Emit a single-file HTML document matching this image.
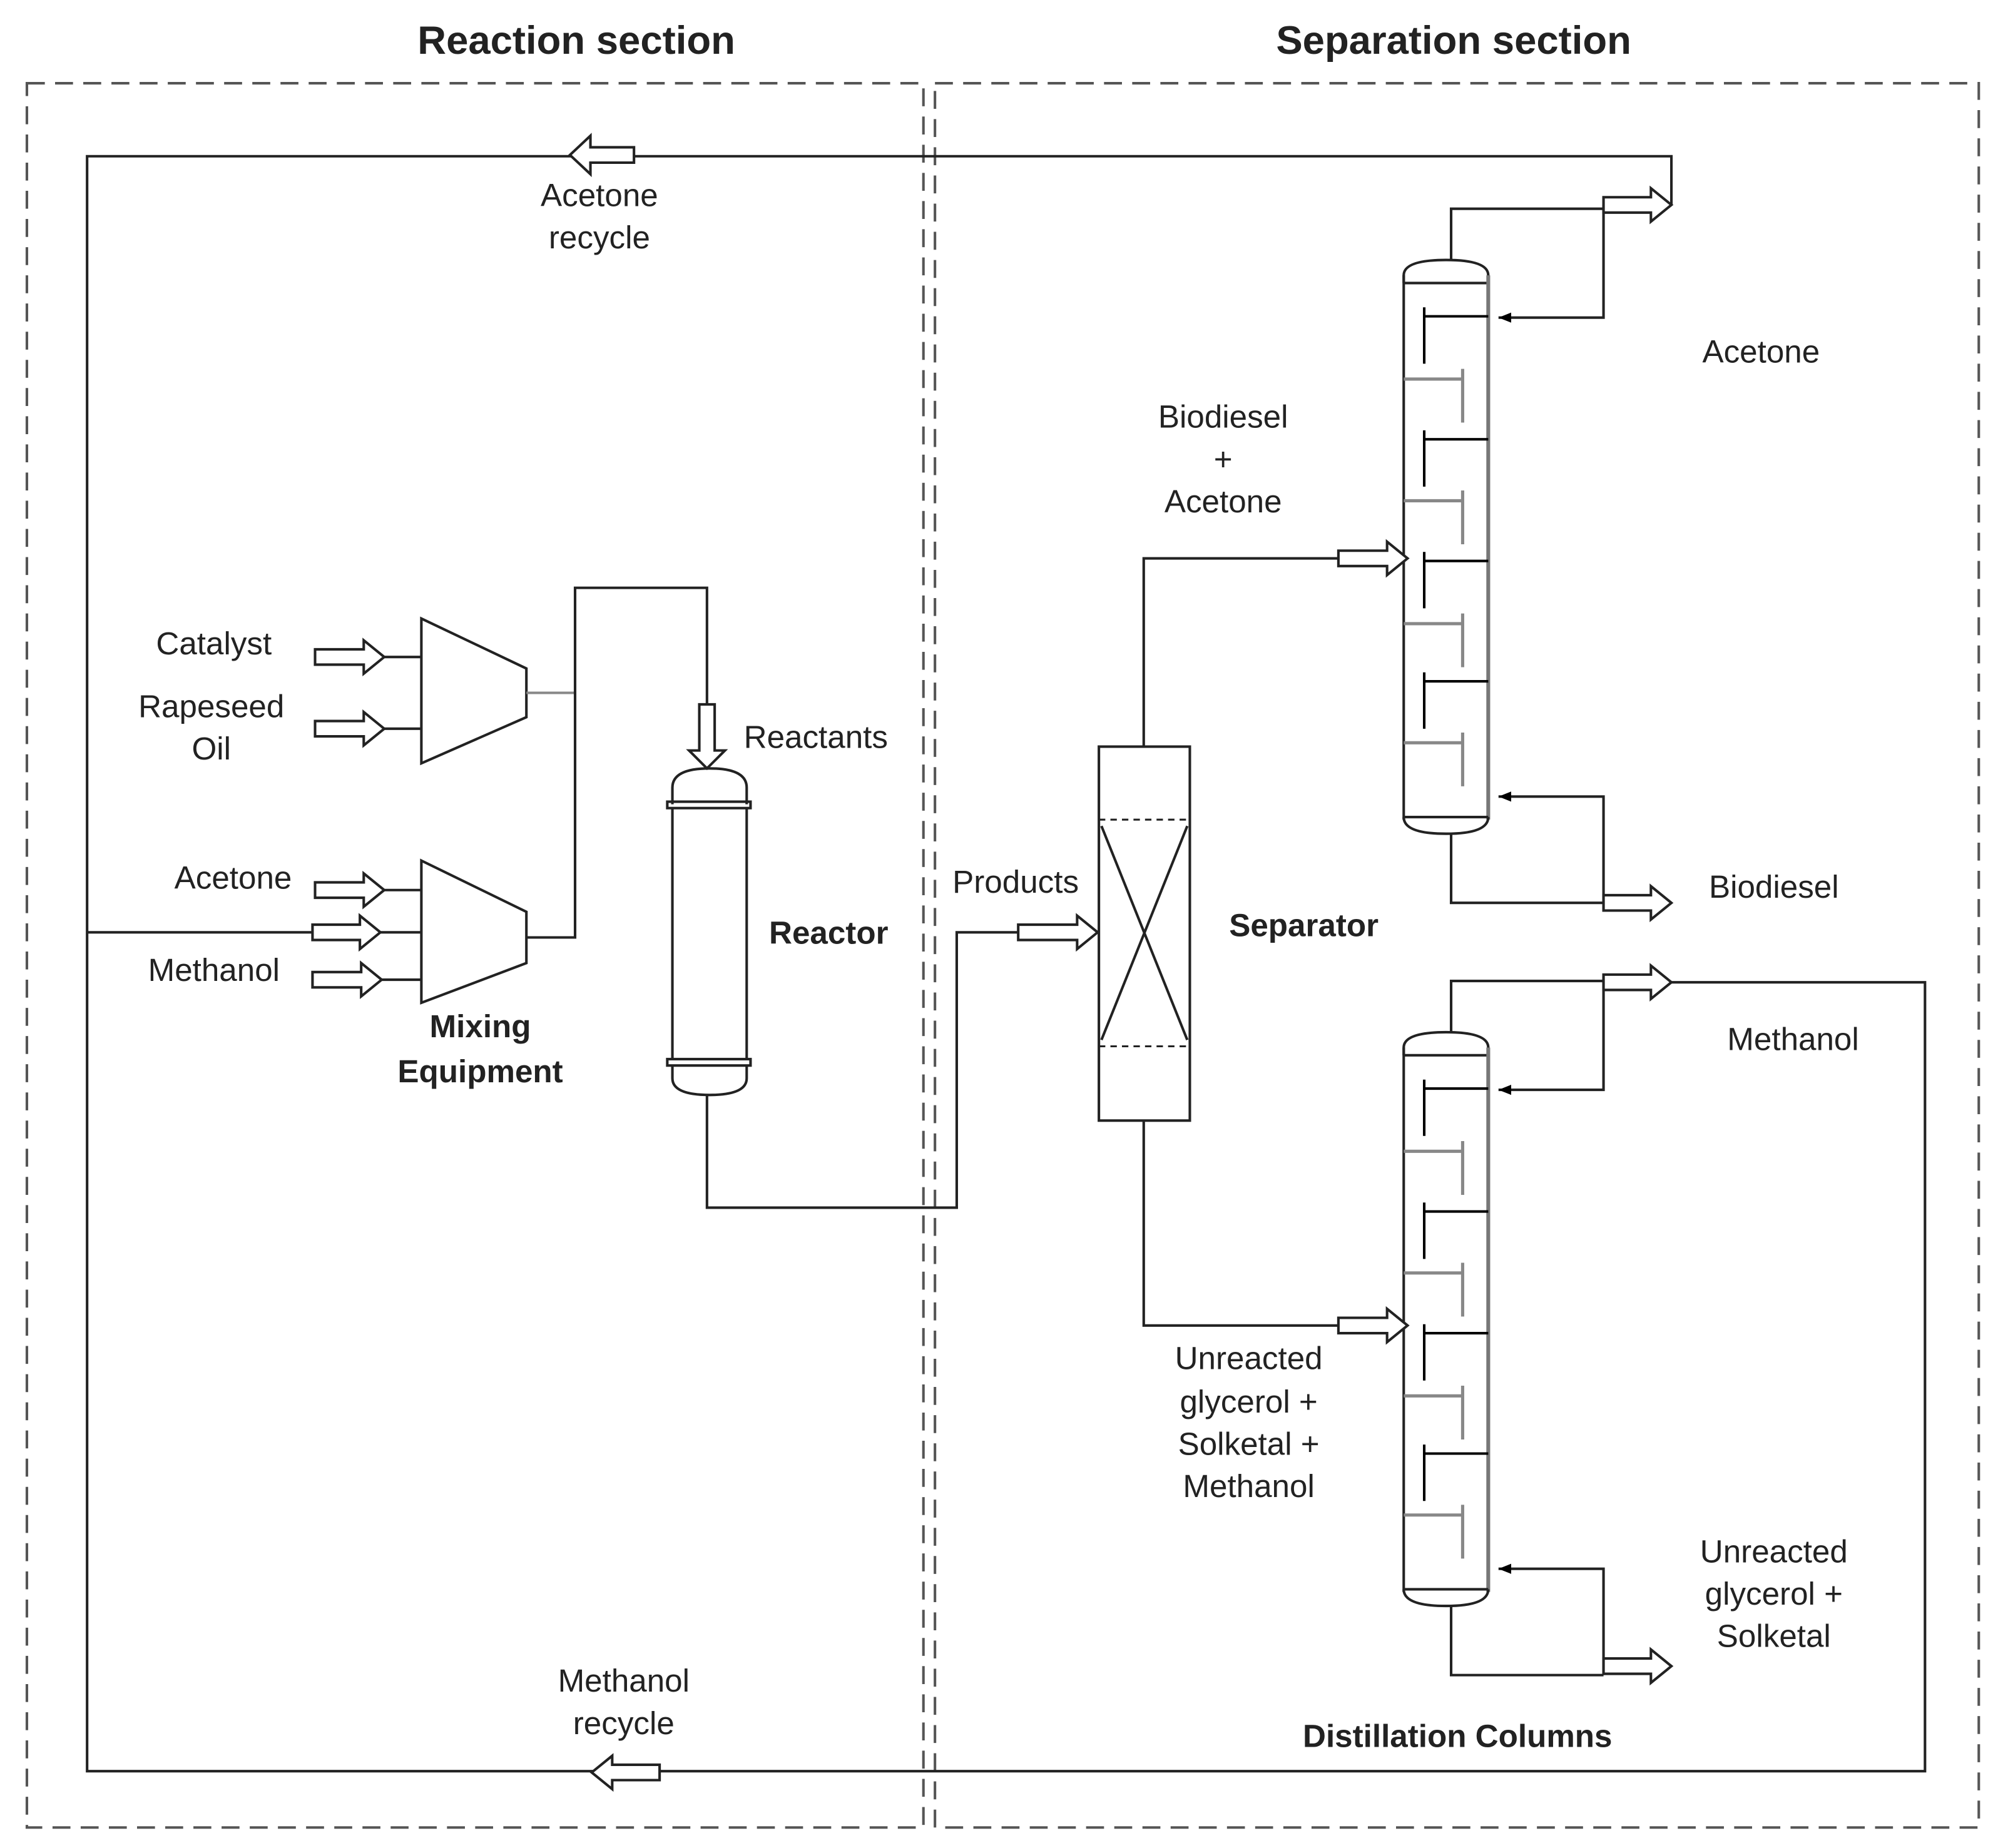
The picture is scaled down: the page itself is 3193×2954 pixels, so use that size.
<!DOCTYPE html>
<html><head><meta charset="utf-8"><style>
html,body{margin:0;padding:0;background:#fff;}
svg{display:block;}
text{font-family:"Liberation Sans",sans-serif;fill:#222;}
</style></head><body>
<svg width="3193" height="2954" viewBox="0 0 1560 1443" preserveAspectRatio="none" xmlns="http://www.w3.org/2000/svg">
<defs>
<marker id="ah" viewBox="0 0 10 10" refX="10" refY="5" markerWidth="5" markerHeight="5" orient="auto" markerUnits="strokeWidth"><path d="M0,1 L10,5 L0,9 Z" fill="#000"/></marker>
</defs>
<rect width="1560" height="1443" fill="#fff"/>
<!-- titles -->
<text x="450" y="42" font-size="31" font-weight="bold" text-anchor="middle">Reaction section</text>
<text x="1135" y="42" font-size="31" font-weight="bold" text-anchor="middle">Separation section</text>
<!-- dashed boxes -->
<g fill="none" stroke="#555" stroke-width="2" stroke-dasharray="14,8">
<rect x="21" y="65" width="700" height="1362"/>
<rect x="730" y="65" width="815" height="1362"/>
</g>
<g fill="none" stroke="#222" stroke-width="2">
<!-- recycle loops -->
<polyline points="1305,160 1305,122 68,122 68,1383 1503,1383 1503,767 1305,767"/>
<line x1="68" y1="728" x2="329" y2="728"/>
<!-- mixers -->
<polygon points="329,483 411,522 411,560 329,596"/>
<polygon points="329,672 411,712 411,752 329,783"/>
<line x1="300" y1="513" x2="329" y2="513"/>
<line x1="300" y1="569" x2="329" y2="569"/>
<line x1="300" y1="695" x2="329" y2="695"/>
<line x1="298" y1="765" x2="329" y2="765"/>
<line x1="411" y1="541" x2="449" y2="541" stroke="#888"/>
<polyline points="411,732 449,732 449,459 552,459 552,550"/>
<!-- reactor -->
<path d="M525,628 L525,615 Q525,600 554,600 Q583,600 583,615 L583,628"/>
<rect x="521" y="626" width="65" height="5"/>
<line x1="525" y1="631" x2="525" y2="827"/>
<line x1="583" y1="631" x2="583" y2="827"/>
<rect x="521" y="827" width="65" height="5"/>
<path d="M525,832 L525,842 Q525,855 554,855 Q583,855 583,842 L583,832"/>
<polyline points="552,855 552,943 747,943 747,728 795,728"/>
<!-- separator -->
<rect x="858" y="583" width="71" height="292"/>
<line x1="858" y1="640" x2="929" y2="640" stroke-dasharray="5,4" stroke-width="1.5"/>
<line x1="858" y1="817" x2="929" y2="817" stroke-dasharray="5,4" stroke-width="1.5"/>
<line x1="860" y1="645" x2="927" y2="812"/>
<line x1="927" y1="645" x2="860" y2="812"/>
<polyline points="893,583 893,436 1045,436"/>
<polyline points="893,875 893,1035 1045,1035"/>
</g>
<!-- columns -->
<g id="col" fill="none" stroke="#222" stroke-width="2">
<path d="M1096,221 L1096,215 Q1096,203 1129,203 Q1162,203 1162,215 L1162,221"/>
<line x1="1096" y1="221" x2="1162" y2="221"/>
<line x1="1096" y1="215" x2="1096" y2="640"/>
<line x1="1162" y1="215" x2="1162" y2="640" stroke="#777" stroke-width="3"/>
<line x1="1096" y1="638" x2="1162" y2="638"/>
<path d="M1096,638 Q1096,651 1129,651 Q1162,651 1162,638"/>
<g stroke="#000">
<path d="M1162,247 H1112 M1112,240 V284"/>
<path d="M1162,343 H1112 M1112,336 V380"/>
<path d="M1162,438 H1112 M1112,431 V475"/>
<path d="M1162,532 H1112 M1112,525 V569"/>
</g>
<g stroke="#888" stroke-width="2.5">
<path d="M1096,296 H1142 M1142,288 V330"/>
<path d="M1096,391 H1142 M1142,383 V425"/>
<path d="M1096,487 H1142 M1142,479 V521"/>
<path d="M1096,580 H1142 M1142,572 V614"/>
</g>
<polyline points="1133,203 1133,163 1252,163"/>
<polyline points="1252,160 1252,248 1170,248" marker-end="url(#ah)"/>
<polyline points="1133,651 1133,705 1252,705"/>
<polyline points="1252,705 1252,622 1170,622" marker-end="url(#ah)"/>
</g>
<use href="#col" transform="translate(0,603)"/>
<!-- hollow arrows -->
<g fill="#fff" stroke="#222" stroke-width="2">
<path d="M246,507 H284 V500 L300,513 L284,526 V519 H246 Z"/>
<path d="M246,563 H284 V556 L300,569 L284,582 V575 H246 Z"/>
<path d="M246,689 H284 V682 L300,695 L284,708 V701 H246 Z"/>
<path d="M244,722 H281 V715 L297,728 L281,741 V734 H244 Z"/>
<path d="M244,759 H282 V752 L298,765 L282,778 V771 H244 Z"/>
<path d="M546,550 H558 V586 H566 L552,600 L538,586 H546 Z"/>
<path d="M795,722 H841 V715 L857,728 L841,741 V734 H795 Z"/>
<path d="M1045,430 H1083 V423 L1099,436 L1083,449 V442 H1045 Z"/>
<path d="M1045,1029 H1083 V1022 L1099,1035 L1083,1048 V1041 H1045 Z"/>
<path d="M1252,154 H1289 V147 L1305,160 L1289,173 V166 H1252 Z"/>
<path d="M1252,699 H1289 V692 L1305,705 L1289,718 V711 H1252 Z"/>
<path d="M1252,761 H1289 V754 L1305,767 L1289,780 V773 H1252 Z"/>
<path d="M1252,1295 H1289 V1288 L1305,1301 L1289,1314 V1307 H1252 Z"/>
<path d="M495,115 H461 V106 L445,121 L461,136 V127 H495 Z"/>
<path d="M515,1378 H478 V1371 L462,1384 L478,1397 V1390 H515 Z"/>
</g>
<!-- labels -->
<g font-size="25" text-anchor="middle">
<text x="468" y="161">Acetone</text>
<text x="468" y="194">recycle</text>
<text x="487" y="1321">Methanol</text>
<text x="487" y="1354">recycle</text>
<text x="167" y="511">Catalyst</text>
<text x="165" y="560">Rapeseed</text>
<text x="165" y="593">Oil</text>
<text x="182" y="694">Acetone</text>
<text x="167" y="766">Methanol</text>
<text x="637" y="584">Reactants</text>
<text x="793" y="697">Products</text>
<text x="955" y="334">Biodiesel</text>
<text x="955" y="367">+</text>
<text x="955" y="400">Acetone</text>
<text x="975" y="1069">Unreacted</text>
<text x="975" y="1103">glycerol +</text>
<text x="975" y="1136">Solketal +</text>
<text x="975" y="1169">Methanol</text>
<text x="1375" y="283">Acetone</text>
<text x="1385" y="701">Biodiesel</text>
<text x="1400" y="820">Methanol</text>
<text x="1385" y="1220">Unreacted</text>
<text x="1385" y="1253">glycerol +</text>
<text x="1385" y="1286">Solketal</text>
</g>
<g font-size="25" font-weight="bold" text-anchor="middle">
<text x="375" y="810">Mixing</text>
<text x="375" y="845">Equipment</text>
<text x="647" y="737">Reactor</text>
<text x="1018" y="731">Separator</text>
<text x="1138" y="1364">Distillation Columns</text>
</g>
</svg>
</body></html>
